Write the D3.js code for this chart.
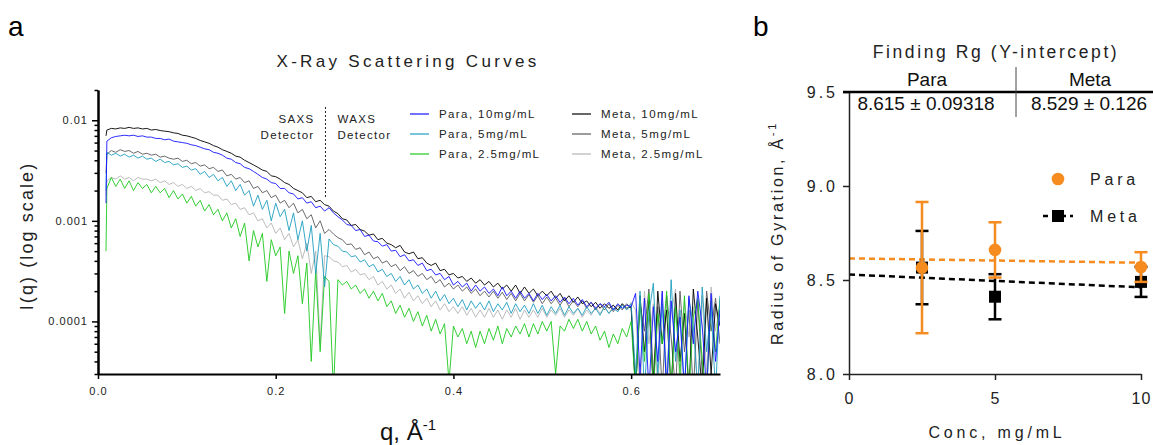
<!DOCTYPE html>
<html>
<head>
<meta charset="utf-8">
<script src="https://cdn.jsdelivr.net/npm/d3@7"></script>
<style>
  body { margin: 0; background: #fff; }
  svg { font-family: "Liberation Sans", Arial, sans-serif; }
</style>
</head>
<body>
<svg id="fig" width="1153" height="445"></svg>
<script>
// ---------- panel a: scattering curves, I(q) in units of 1e-4 ----------
var qGrid = [
  .009,.010,.015,.020,.025,.030,.035,.040,.045,.050,
  .055,.060,.065,.070,.075,.080,.085,.090,.095,.100,
  .105,.110,.115,.120,.125,.130,.135,.140,.145,.150,
  .155,.160,.165,.170,.175,.180,.185,.190,.195,.200,
  .205,.210,.215,.220,.225,.230,.235,.240,.245,.250,
  .255,.260,.265,.270,.275,.280,.285,.290,.295,.300,
  .305,.310,.315,.320,.325,.330,.335,.340,.345,.350,
  .355,.360,.365,.370,.375,.380,.385,.390,.395,.400,
  .405,.410,.415,.420,.425,.430,.435,.440,.445,.450,
  .455,.460,.465,.470,.475,.480,.485,.490,.495,.500,
  .505,.510,.515,.520,.525,.530,.535,.540,.545,.550,
  .555,.560,.565,.570,.575,.580,.585,.590,.595,.600,
  .605,.610,.615,.620,.625,.630,.635,.640,.645,.650,
  .655,.660,.665,.670,.675,.680,.685,.690,.695,.700]

var meta10 = [
  70,80,83,82,84,83,85,83,84,82, 83,80,81,79,78,77,75,74,71,70,
  68,66,63,61,59,56,54,51,49,47, 44,43,40,38,36,34,32,31,28,27.5,
  26,24,23,21,20,19,17,17.5,15.5,16, 14.5,14,12.5,11.8,10.5,10.2,9,9.2,8.2,7.9,
  7.2,7.4,6.5,6.7,6.0,5.8,5.4,5.7,4.9,4.7, 4.9,4.2,4.3,3.8,3.6,3.8,3.2,3.3,2.9,3.0,
  2.7,2.8,2.5,2.7,2.4,2.6,2.3,2.5,2.2,2.4, 2.1,2.3,2.0,2.3,1.9,2.2,1.9,2.1,1.8,2.0,
  1.8,2.0,1.7,1.9,1.6,1.8,1.55,1.75,1.5,1.6, 1.4,1.55,1.35,1.5,1.35,1.45,1.3,1.5,1.35,1.4,
  0.2,1.8,0.5,1.6,0.2,2.0,0.6,1.3,0.2,1.9, 0.4,1.2,0.2,2.1,0.7,0.2,1.7,0.3,1.5,0.9]

var meta5 = [
  30,46,50,48,51,49,50,47,49,46, 47,45,46,43,44,42,41,42,39,40,
  37,38,35,36,33,34,31,32,28,29, 26,27,24,25,21,22,19,20,17,18,
  15,16,13.5,15,12,13,10.5,11.5,8.5,10, 7.5,8.2,7.4,6.8,6.5,5.8,5.9,5.2,5.4,4.6,
  4.9,4.2,4.4,3.8,4,3.5,3.7,3.2,3.5,3, 3.2,2.8,3,2.6,2.8,2.4,2.6,2.2,2.4,2.1,
  2.3,2,2.2,1.9,2.1,1.8,2,1.75,2,1.7, 1.95,1.65,1.9,1.6,1.9,1.6,1.85,1.55,1.8,1.5,
  1.75,1.5,1.7,1.45,1.7,1.4,1.6,1.4,1.6,1.35, 1.55,1.3,1.5,1.3,1.5,1.25,1.45,1.3,1.5,1.35,
  0.2,1.5,0.8,2.1,0.3,1.4,0.2,1.8,0.7,0.2, 2,0.5,1.3,0.2,1.6,0.3,2,0.8,1.7,0.6]

var meta25 = [
  18,25,27,26,28,26,27,25,27,26, 26,25,26,24,25,23,24,22,23,21,
  22,20,21,19,19.5,18,18,16,16.5,14.5, 15,13,13.5,11.5,12,10,10.5,8.5,9.5,7.5,
  8.5,6.5,7.5,5.5,6.5,4.2,6,3,5,0.6, 4.5,4.4,4,3.9,3.5,3.6,3.1,3.3,2.9,3,
  2.6,2.8,2.3,2.5,2.1,2.3,1.9,2.1,1.7,1.95, 1.6,1.8,1.5,1.7,1.4,1.6,1.3,1.5,1.25,1.4,
  1.2,1.4,1.15,1.35,1.1,1.3,1.1,1.35,1.1,1.3, 1.05,1.3,1.1,1.35,1.05,1.3,1.1,1.3,1.1,1.35,
  1.1,1.3,1.15,1.35,1.1,1.3,1.15,1.35,1.1,1.3, 1.15,1.4,1.2,1.4,1.2,1.45,1.25,1.5,1.3,1.55,
  1.3,0.2,2,0.6,1.5,0.2,1.9,0.3,1.2,2.1, 0.2,1.6,0.7,1.4,0.2,1.8,0.3,2.2,0.8,1.5]

var para10 = [
  15,62,67,69,70,71,70,71,69,70, 68,68,66,66,64,65,62,61,60,59,
  57,56,54,52,51,48,47,45,42,41, 38,37,34,33,31,29,27,26,24,23.5,
  21,21,19,18.5,16.5,17,15,15.5,13.5,14, 12.5,13.5,12,11,10.2,9.2,9,8,8.2,7,
  7.2,6.3,6.2,5.6,5.8,5,5.1,4.4,4.6,4, 4.1,3.6,3.8,3.2,3.3,2.9,3,2.6,2.8,2.3,
  2.5,2.2,2.4,2,2.3,2,2.2,1.9,2.1,1.8, 2.2,1.8,2,1.7,2,1.7,1.9,1.6,1.9,1.65,
  1.85,1.6,1.8,1.55,1.75,1.5,1.7,1.45,1.65,1.4, 1.55,1.35,1.5,1.4,1.55,1.3,1.5,1.35,1.45,1.4,
  1.9,0.3,1.7,0.2,1.4,0.4,2,0.2,1.6,0.5, 1.1,0.2,1.8,0.6,2,0.9,0.2,1.9,0.4,1.3]

var para5 = [
  20,48,45,47,44,46,43,45,42,44, 41,42,39,41,38,39,36,37,34,35,
  32,33,29,31,27,29,25,27,22,25, 20,23,18,20,14,18,13,16,10,15,
  11,13,8,12,6.5,10,5,9,3,7.5, 2.2,6.6,5.8,5.6,5,4.9,4.4,4.5,3.9,4.1,
  3.5,3.7,3.1,3.3,2.8,3,2.5,2.8,2.3,2.6, 2.1,2.3,1.9,2.1,1.7,2,1.6,1.85,1.5,1.7,
  1.4,1.65,1.3,1.6,1.35,1.55,1.3,1.6,1.25,1.5, 1.3,1.55,1.2,1.5,1.25,1.45,1.2,1.5,1.2,1.45,
  1.15,1.4,1.2,1.45,1.15,1.4,1.2,1.35,1.15,1.4, 1.2,1.35,1.15,1.4,1.2,1.35,1.25,1.45,1.3,1.5,
  0.3,2,0.2,1.2,2.4,0.3,1.5,0.2,2.6,0.4, 1.3,0.2,1.7,0.9,0.2,2.2,0.5,1.4,0.2,1.8]

var para25 = [
  5,21,27,22,26,21,25,20,24,21, 23,19,22,19,21,17,20,16.5,18.5,15,
  17.5,14,16,12.5,14.5,11.5,13,10,12,8.5, 10.5,7,9.5,4,8,5.5,7.5,2.5,6.5,4.5,
  5.5,1.2,5,3,4.5,1.5,3.8,0.4,3.2,0.5, 2.8,2.5,0.2,2.6,2.3,2.5,2.1,2.3,1.9,2.1,
  1.7,2.0,1.6,1.9,1.4,1.6,1.2,1.45,1.1,1.35, 1.0,1.25,0.9,1.15,0.8,1.05,0.75,0.95,0.25,0.9,
  0.7,0.85,0.6,0.8,0.55,0.8,0.6,0.85,0.65,0.9, 0.6,0.85,0.7,0.9,0.75,0.95,0.7,0.95,0.75,1,
  0.8,1,0.3,0.9,0.8,1.05,0.85,1.05,0.8,1, 0.75,0.9,0.65,0.8,0.55,0.75,0.6,0.85,0.7,1,
  0.2,1.6,0.4,1.9,0.2,1.2,0.6,2,0.2,1.4, 0.3,1.8,0.2,1.1,1.7,0.4,0.2,1.6,0.5,1.7]

var curveNames = ["Para, 10mg/mL", "Para, 5mg/mL", "Para, 2.5mg/mL",
                  "Meta, 10mg/mL", "Meta, 5mg/mL", "Meta, 2.5mg/mL"]
var curveValues = [para10, para5, para25, meta10, meta5, meta25]
var curveColors = ["#1414ff", "#1e9ec0", "#1ec81e", "#000000", "#5a5a5a", "#b4b4b4"]
var drawOrder = [5, 4, 3, 2, 1, 0]

var qDetector = 0.256
var xTicksA = [0, 0.2, 0.4, 0.6]
var yMajorA = [1e-4, 1e-3, 1e-2]

// ---------- panel b: radius of gyration ----------
var concs = [2.5, 5, 10]
var paraRg = [8.566, 8.66, 8.569]
var paraErr = [0.349, 0.147, 0.079]
var metaRg = [8.566, 8.411, 8.49]
var metaErr = [0.195, 0.12, 0.08]
var fitNames = ["Para", "Meta"]
var fitAt0 = [8.615, 8.529]
var fitAt10 = [8.592, 8.461]
var tableVals = ["8.615 \u00b1 0.09318", "8.529 \u00b1 0.126"]
var xTicksB = [0, 5, 10]
var yTicksB = [8.0, 8.5, 9.0, 9.5]

var orange = "#f68b1f"
var svg = d3.select("#fig")

// panel letters
svg.append("text").attr("x", 8).attr("y", 36).attr("font-size", 28).text("a")
svg.append("text").attr("x", 753).attr("y", 36).attr("font-size", 28).text("b")

// ===== panel a =====
var x = d3.scaleLinear().domain([0, 0.7]).range([98, 720])
var y = d3.scaleLog().domain([3e-5, 0.02]).range([374, 90])

svg.append("clipPath").attr("id", "clipA")
  .append("rect").attr("x", 98).attr("y", 90).attr("width", 622).attr("height", 284)

var line = d3.line()
  .x((d, i) => x(qGrid[i]))
  .y(d => y(d * 1e-4))

var curves = svg.append("g").attr("clip-path", "url(#clipA)")
drawOrder.forEach(function(s) {
  curves.append("path")
    .attr("d", line(curveValues[s]))
    .attr("fill", "none")
    .attr("stroke", curveColors[s])
    .attr("stroke-width", 0.9)
    .attr("stroke-linejoin", "round")
})

// detector boundary
svg.append("line")
  .attr("x1", x(qDetector)).attr("x2", x(qDetector))
  .attr("y1", 107).attr("y2", 198)
  .attr("stroke", "#222").attr("stroke-width", 1).attr("stroke-dasharray", "2,2")

var det = svg.append("g").attr("font-size", 11.5).attr("letter-spacing", 1.3).attr("fill", "#222")
det.append("text").attr("x", x(qDetector) - 11).attr("y", 123).attr("text-anchor", "end").text("SAXS")
det.append("text").attr("x", x(qDetector) - 11).attr("y", 139).attr("text-anchor", "end").text("Detector")
det.append("text").attr("x", x(qDetector) + 12).attr("y", 123).text("WAXS")
det.append("text").attr("x", x(qDetector) + 12).attr("y", 139).text("Detector")

// legend a
var legA = svg.append("g").attr("font-size", 11.5).attr("letter-spacing", 1.4).attr("fill", "#222")
curveNames.forEach(function(n, i) {
  var col = Math.floor(i / 3), row = i % 3
  var lx = 410 + col * 162, ly = 114 + row * 20
  legA.append("line").attr("x1", lx).attr("x2", lx + 19).attr("y1", ly).attr("y2", ly)
    .attr("stroke", curveColors[i]).attr("stroke-width", 1.2)
  legA.append("text").attr("x", lx + 29).attr("y", ly + 4).text(n)
})

// axes a
var yMinor = y.ticks().filter(d => yMajorA.indexOf(d) < 0)
var gyMinor = svg.append("g").attr("transform", "translate(98,0)")
  .call(d3.axisLeft(y).tickValues(yMinor).tickSize(3.5).tickSizeOuter(0).tickFormat(""))
var gy = svg.append("g").attr("transform", "translate(98,0)")
  .call(d3.axisLeft(y).tickValues(yMajorA).tickSize(6).tickSizeOuter(0).tickFormat(d => String(d)))
var gx = svg.append("g").attr("transform", "translate(0,374)")
  .call(d3.axisBottom(x).tickValues(xTicksA).tickSize(5).tickSizeOuter(0).tickFormat(d3.format(".1f")))

;[gyMinor, gy, gx].forEach(function(g) {
  g.select(".domain").attr("stroke-width", 2)
  g.selectAll(".tick line").attr("stroke-width", 1.5)
  g.selectAll("text").attr("font-family", "Liberation Sans, Arial, sans-serif")
    .attr("font-size", 11).attr("letter-spacing", 1).attr("fill", "#222")
})
gy.selectAll("text").attr("dx", "-1")
gx.selectAll("text").attr("dy", "1.15em")

svg.append("text").attr("x", 408).attr("y", 67).attr("text-anchor", "middle")
  .attr("font-size", 17).attr("letter-spacing", 3.3).attr("fill", "#222")
  .text("X-Ray Scattering Curves")

svg.append("text").attr("transform", "translate(33,236) rotate(-90)")
  .attr("text-anchor", "middle").attr("font-size", 18).attr("letter-spacing", 2.1)
  .attr("fill", "#222").text("I(q) (log scale)")

var xl = svg.append("text").attr("x", 380).attr("y", 440).attr("font-size", 24).attr("fill", "#111")
xl.append("tspan").text("q, \u00c5")
xl.append("tspan").attr("font-size", 15).attr("dy", -10).text("-1")

// ===== panel b =====
var xb = d3.scaleLinear().domain([0, 10]).range([849, 1141])
var yb = d3.scaleLinear().domain([8.0, 9.5]).range([374, 92])

// fit lines
fitNames.forEach(function(n, i) {
  svg.append("line")
    .attr("x1", xb(0)).attr("x2", xb(10))
    .attr("y1", yb(fitAt0[i])).attr("y2", yb(fitAt10[i]))
    .attr("stroke", i === 0 ? orange : "#000").attr("stroke-width", 2.5)
    .attr("stroke-dasharray", "6,4")
})

function errorBars(vals, errs, color) {
  var g = svg.append("g").attr("stroke", color).attr("stroke-width", 2.5)
  concs.forEach(function(c, i) {
    var cx = xb(c)
    g.append("line").attr("x1", cx).attr("x2", cx)
      .attr("y1", yb(vals[i] - errs[i])).attr("y2", yb(vals[i] + errs[i]))
    ;[vals[i] - errs[i], vals[i] + errs[i]].forEach(function(v) {
      g.append("line").attr("x1", cx - 6.5).attr("x2", cx + 6.5).attr("y1", yb(v)).attr("y2", yb(v))
    })
  })
}

errorBars(metaRg, metaErr, "#000")
svg.append("g").selectAll("rect").data(concs).join("rect")
  .attr("x", d => xb(d) - 6).attr("y", (d, i) => yb(metaRg[i]) - 6)
  .attr("width", 12).attr("height", 12).attr("fill", "#000")

errorBars(paraRg, paraErr, orange)
svg.append("g").selectAll("circle").data(concs).join("circle")
  .attr("cx", d => xb(d)).attr("cy", (d, i) => yb(paraRg[i])).attr("r", 6.3).attr("fill", orange)

// axes b
var gyb = svg.append("g").attr("transform", "translate(849,0)")
  .call(d3.axisLeft(yb).tickValues(yTicksB).tickSize(6).tickSizeOuter(0).tickFormat(d3.format(".1f")))
var gxb = svg.append("g").attr("transform", "translate(0,374)")
  .call(d3.axisBottom(xb).tickValues(xTicksB).tickSize(6).tickSizeOuter(0).tickFormat(d3.format("d")))
;[gyb, gxb].forEach(function(g) {
  g.select(".domain").attr("stroke-width", 1.5).attr("stroke", "#222")
  g.selectAll(".tick line").attr("stroke-width", 1.5).attr("stroke", "#222")
  g.selectAll("text").attr("font-family", "Liberation Sans, Arial, sans-serif")
    .attr("font-size", 16).attr("fill", "#222")
})
gyb.selectAll("text").attr("letter-spacing", 3).attr("dx", "-2").attr("dy", "0.36em")
gxb.selectAll("text").attr("letter-spacing", 1).attr("dy", "1.3em")

svg.append("text").attr("transform", "translate(783,233) rotate(-90)")
  .attr("text-anchor", "middle").attr("font-size", 16).attr("letter-spacing", 2.7).attr("fill", "#222")
  .call(function(t) {
    t.append("tspan").text("Radius of Gyration, \u00c5")
    t.append("tspan").attr("font-size", 11).attr("dy", -7).text("-1")
  })

svg.append("text").attr("x", 997).attr("y", 438).attr("text-anchor", "middle")
  .attr("font-size", 16).attr("letter-spacing", 3.8).attr("fill", "#222").text("Conc, mg/mL")

// table
svg.append("text").attr("x", 996).attr("y", 58).attr("text-anchor", "middle")
  .attr("font-size", 17.5).attr("letter-spacing", 2.6).attr("fill", "#222")
  .text("Finding Rg (Y-intercept)")
svg.append("line").attr("x1", 843).attr("x2", 1153).attr("y1", 92).attr("y2", 92)
  .attr("stroke", "#000").attr("stroke-width", 2.5)
svg.append("line").attr("x1", 1016).attr("x2", 1016).attr("y1", 67).attr("y2", 117)
  .attr("stroke", "#444").attr("stroke-width", 1)
fitNames.forEach(function(n, i) {
  var cx = i === 0 ? 927 : 1090
  svg.append("text").attr("x", cx).attr("y", 86).attr("text-anchor", "middle")
    .attr("font-size", 19).attr("fill", "#111").text(n)
  svg.append("text").attr("x", cx - 1).attr("y", 110).attr("text-anchor", "middle")
    .attr("font-size", 19).attr("fill", "#111").text(tableVals[i])
})

// legend b
var legB = svg.append("g").attr("font-size", 16).attr("letter-spacing", 3.8).attr("fill", "#222")
legB.append("circle").attr("cx", 1058).attr("cy", 179).attr("r", 6.3).attr("fill", orange)
legB.append("text").attr("x", 1090).attr("y", 185).text(fitNames[0])
legB.append("line").attr("x1", 1043).attr("x2", 1073).attr("y1", 216).attr("y2", 216)
  .attr("stroke", "#000").attr("stroke-width", 2.5).attr("stroke-dasharray", "5,4")
legB.append("rect").attr("x", 1052).attr("y", 210).attr("width", 12).attr("height", 12).attr("fill", "#000")
legB.append("text").attr("x", 1090).attr("y", 222).text(fitNames[1])
</script>
</body>
</html>
